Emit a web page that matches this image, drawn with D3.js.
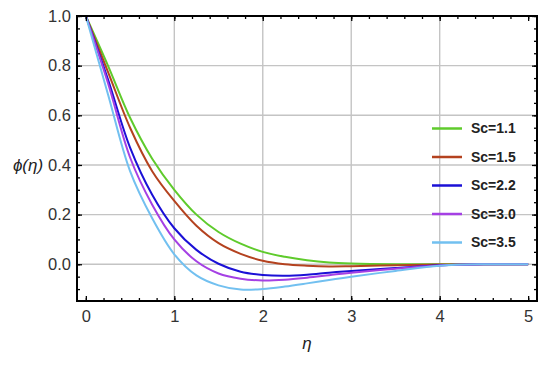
<!DOCTYPE html>
<html>
<head>
<meta charset="utf-8">
<script src="https://cdn.jsdelivr.net/npm/d3@7"></script>
<style>
  html, body { margin: 0; padding: 0; background: #fff; }
  svg { display: block; }
</style>
</head>
<body>
<svg id="chart" width="550" height="365"></svg>
<script>
// ---- data ----
const eta = [0, 0.25, 0.5, 0.75, 1.0, 1.25, 1.5, 1.75, 2.0, 2.25, 2.5, 2.75, 3.0, 3.5, 4.0, 4.5, 5.0];
const scLabels = ["Sc=1.1", "Sc=1.5", "Sc=2.2", "Sc=3.0", "Sc=3.5"];
const phiSc11 = [1, 0.80, 0.59, 0.425, 0.30, 0.20, 0.13, 0.083, 0.05, 0.03, 0.016, 0.007, 0.003, 0.0, 0.0, 0.0, 0.0];
const phiSc15 = [1, 0.775, 0.55, 0.375, 0.255, 0.155, 0.085, 0.042, 0.014, 0.0, -0.006, -0.009, -0.008, -0.004, -0.001, 0.0, 0.0];
const phiSc22 = [1, 0.745, 0.47, 0.28, 0.145, 0.058, 0.002, -0.03, -0.043, -0.046, -0.042, -0.034, -0.027, -0.015, -0.004, 0.0, 0.0];
const phiSc30 = [1, 0.73, 0.43, 0.24, 0.10, 0.012, -0.037, -0.058, -0.065, -0.062, -0.054, -0.044, -0.034, -0.018, -0.005, 0.0, 0.0];
const phiSc35 = [1, 0.685, 0.375, 0.185, 0.04, -0.045, -0.085, -0.102, -0.10, -0.09, -0.077, -0.063, -0.05, -0.027, -0.006, 0.0, 0.0];
const xTicks = [0, 1, 2, 3, 4, 5];
const yTicks = [0.0, 0.2, 0.4, 0.6, 0.8, 1.0];
const series = [phiSc11, phiSc15, phiSc22, phiSc30, phiSc35];
const colors = ["#5fcb2c", "#b4421f", "#1b10d6", "#a540e4", "#72c0f0"];

// ---- layout ----
const W = 550, H = 365;
const m = { left: 77, top: 16, right: 13, bottom: 64 };
const svg = d3.select("#chart");
const iw = W - m.left - m.right, ih = H - m.top - m.bottom;

const x = d3.scaleLinear().domain([-0.1, 5.1]).range([m.left, m.left + iw]);
const y = d3.scaleLinear().domain([-0.148, 1.0]).range([m.top + ih, m.top]);

const font = "'Liberation Sans', Arial, sans-serif";

// grid
const g = svg.append("g");
g.selectAll(".vg").data(xTicks.filter(d => d > 0 && d < 5)).enter().append("line")
  .attr("x1", d => x(d)).attr("x2", d => x(d))
  .attr("y1", m.top).attr("y2", m.top + ih)
  .attr("stroke", "#c4c4c4").attr("stroke-width", 1.4);
g.selectAll(".hg").data(yTicks.filter(d => d < 1)).enter().append("line")
  .attr("x1", m.left).attr("x2", m.left + iw)
  .attr("y1", d => y(d)).attr("y2", d => y(d))
  .attr("stroke", "#c4c4c4").attr("stroke-width", 1.4);

// curves
const line = d3.line().x((d, i) => x(eta[i])).y(d => y(d)).curve(d3.curveCatmullRom.alpha(0.5));
series.forEach((s, k) => {
  svg.append("path").datum(s).attr("d", line)
    .attr("fill", "none").attr("stroke", colors[k]).attr("stroke-width", 2);
});

// axes
const xMinor = d3.range(0, 5.01, 0.2);
const yMinor = d3.range(-0.1, 1.001, 0.05);
function styleAxis(sel) {
  sel.select(".domain").remove();
  sel.selectAll(".tick line").attr("stroke", "#000").attr("stroke-width", 1.3);
  sel.selectAll(".tick text").attr("fill", "#333").style("font-family", font).style("font-size", "16.5px");
}
function addAxis(axis, tx, ty) {
  const a = svg.append("g").attr("transform", `translate(${tx},${ty})`).call(axis);
  styleAxis(a);
  return a;
}
addAxis(d3.axisBottom(x).tickValues(xTicks).tickFormat(d3.format("d")).tickSize(-5).tickPadding(9), 0, m.top + ih);
addAxis(d3.axisBottom(x).tickValues(xMinor).tickFormat("").tickSize(-3), 0, m.top + ih);
addAxis(d3.axisTop(x).tickValues(xTicks).tickFormat("").tickSize(-5), 0, m.top);
addAxis(d3.axisTop(x).tickValues(xMinor).tickFormat("").tickSize(-3), 0, m.top);
addAxis(d3.axisLeft(y).tickValues(yTicks).tickFormat(d3.format(".1f")).tickSize(-5).tickPadding(6), m.left, 0);
addAxis(d3.axisLeft(y).tickValues(yMinor).tickFormat("").tickSize(-3), m.left, 0);
addAxis(d3.axisRight(y).tickValues(yTicks).tickFormat("").tickSize(-5), m.left + iw, 0);
addAxis(d3.axisRight(y).tickValues(yMinor).tickFormat("").tickSize(-3), m.left + iw, 0);

// frame
svg.append("rect").attr("x", m.left).attr("y", m.top).attr("width", iw).attr("height", ih)
  .attr("fill", "none").attr("stroke", "#000").attr("stroke-width", 2);

// axis titles
svg.append("text").attr("x", 28).attr("y", 165).attr("dy", "0.35em")
  .attr("text-anchor", "middle").style("font-family", font).style("font-size", "17px")
  .style("font-style", "italic").attr("fill", "#222").text("\u03D5(\u03B7)");
svg.append("text").attr("x", x(2.5)).attr("y", 343).attr("dy", "0.35em")
  .attr("text-anchor", "middle").style("font-family", font).style("font-size", "17px")
  .style("font-style", "italic").attr("fill", "#222").text("\u03B7");

// legend
const leg = svg.append("g");
scLabels.forEach((lab, k) => {
  const yy = 128.5 + k * 28.5;
  leg.append("line").attr("x1", 432).attr("x2", 462).attr("y1", yy).attr("y2", yy)
    .attr("stroke", colors[k]).attr("stroke-width", 2.5);
  leg.append("text").attr("x", 471).attr("y", yy).attr("dy", "0.35em")
    .style("font-family", font).style("font-size", "14px").style("font-weight", "bold")
    .attr("fill", "#222").text(lab);
});
</script>
</body>
</html>
